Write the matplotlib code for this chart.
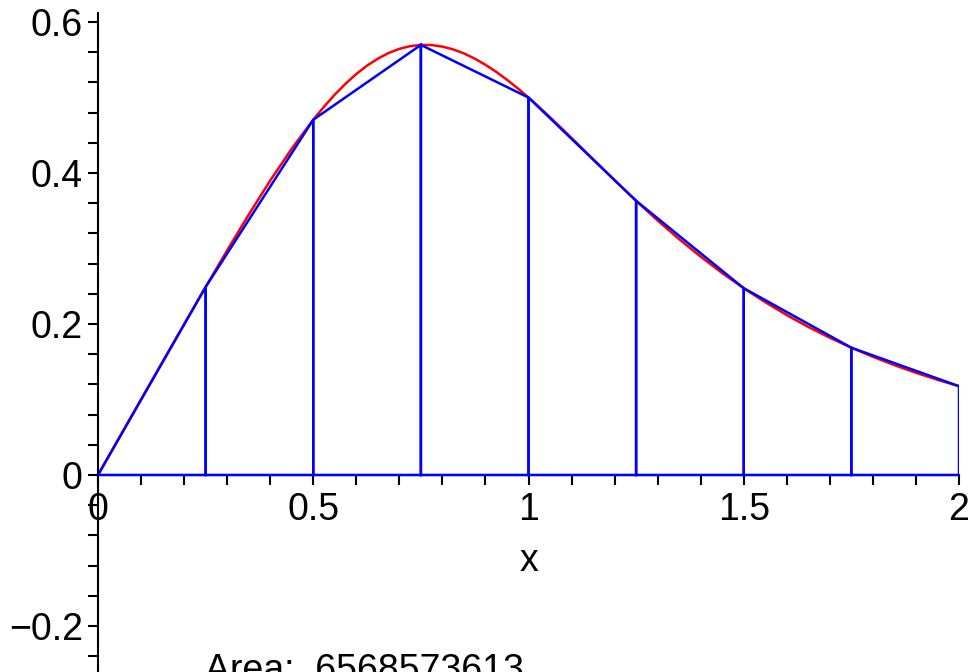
import matplotlib
matplotlib.use("Agg")
import matplotlib.pyplot as plt
from matplotlib.ticker import MultipleLocator

plt.rcParams['font.family'] = ['Liberation Sans', 'DejaVu Sans']

# red curve (finer steps around the peak)
curve_x = [0.0, 0.05, 0.1, 0.15, 0.2, 0.25, 0.3, 0.35, 0.4, 0.45, 0.5,
           0.525, 0.55, 0.575, 0.6, 0.625, 0.65, 0.675, 0.7, 0.725, 0.75,
           0.775, 0.8, 0.825, 0.85, 0.875, 0.9, 0.925, 0.95, 0.975, 1.0,
           1.025, 1.05, 1.075, 1.1, 1.15, 1.2, 1.25, 1.3, 1.35, 1.4, 1.45, 1.5,
           1.55, 1.6, 1.65, 1.7, 1.75, 1.8, 1.85, 1.9, 1.95, 2.0]
curve_y = [0.0, 0.05, 0.1, 0.1499, 0.1997, 0.249, 0.2976, 0.3448, 0.39, 0.4323, 0.4706,
           0.4879, 0.5039, 0.5183, 0.5312, 0.5423, 0.5515, 0.559, 0.5645, 0.5681, 0.5697,
           0.5695, 0.5675, 0.5638, 0.5585, 0.5516, 0.5434, 0.534, 0.5236, 0.5122, 0.5,
           0.4872, 0.4739, 0.4603, 0.4464, 0.4183, 0.3904, 0.3632, 0.3371, 0.3124, 0.2892, 0.2675, 0.2474,
           0.2289, 0.2118, 0.1961, 0.1818, 0.1686, 0.1566, 0.1455, 0.1354, 0.1261, 0.1176]

# trapezoid nodes
node_x = [0.0, 0.25, 0.5, 0.75, 1.0, 1.25, 1.5, 1.75, 2.0]
node_y = [0.0, 0.249, 0.4706, 0.5697, 0.5, 0.3632, 0.2474, 0.1686, 0.1176]

xticks = [0, 0.5, 1, 1.5, 2]
xtick_labels = ['0', '0.5', '1', '1.5', '2']
yticks = [-0.2, 0, 0.2, 0.4, 0.6]
ytick_labels = ['\u22120.2', '0', '0.2', '0.4', '0.6']
area_text = 'Area: .6568573613'

fig = plt.figure(figsize=(9.74, 6.72), dpi=100)
ax = fig.add_axes([98 / 974, 0, 861 / 974, 659 / 672])

ax.plot(curve_x, curve_y, color='red', lw=1.8, zorder=2)

# each trapezoid drawn as a closed outline
for i in range(len(node_x) - 1):
    xs = [node_x[i], node_x[i], node_x[i + 1], node_x[i + 1], node_x[i]]
    ys = [0, node_y[i], node_y[i + 1], 0, 0]
    ax.plot(xs, ys, color='blue', lw=1.8, zorder=3, solid_joinstyle='miter')

ax.set_xlim(0, 2)
ax.set_ylim(-0.261, 0.612)

ax.spines['top'].set_visible(False)
ax.spines['right'].set_visible(False)
ax.spines['bottom'].set_position(('data', 0))
ax.spines['left'].set_position(('data', 0))
for s in ['bottom', 'left']:
    ax.spines[s].set_linewidth(1.5)

ax.set_xticks(xticks, xtick_labels)
ax.set_yticks(yticks, ytick_labels)
ax.xaxis.set_minor_locator(MultipleLocator(0.1))
ax.yaxis.set_minor_locator(MultipleLocator(0.04))
ax.tick_params(which='both', direction='out', length=7, width=1.5)
ax.tick_params(axis='x', labelsize=27, pad=5)
ax.tick_params(axis='y', labelsize=27, pad=4)

ax.text(1, -0.1146, 'x', ha='center', va='center', fontsize=27)
fig.text(205 / 974, 1 - 653 / 672, area_text, ha='left', va='top', fontsize=27)

plt.savefig('out.png', dpi=100)
